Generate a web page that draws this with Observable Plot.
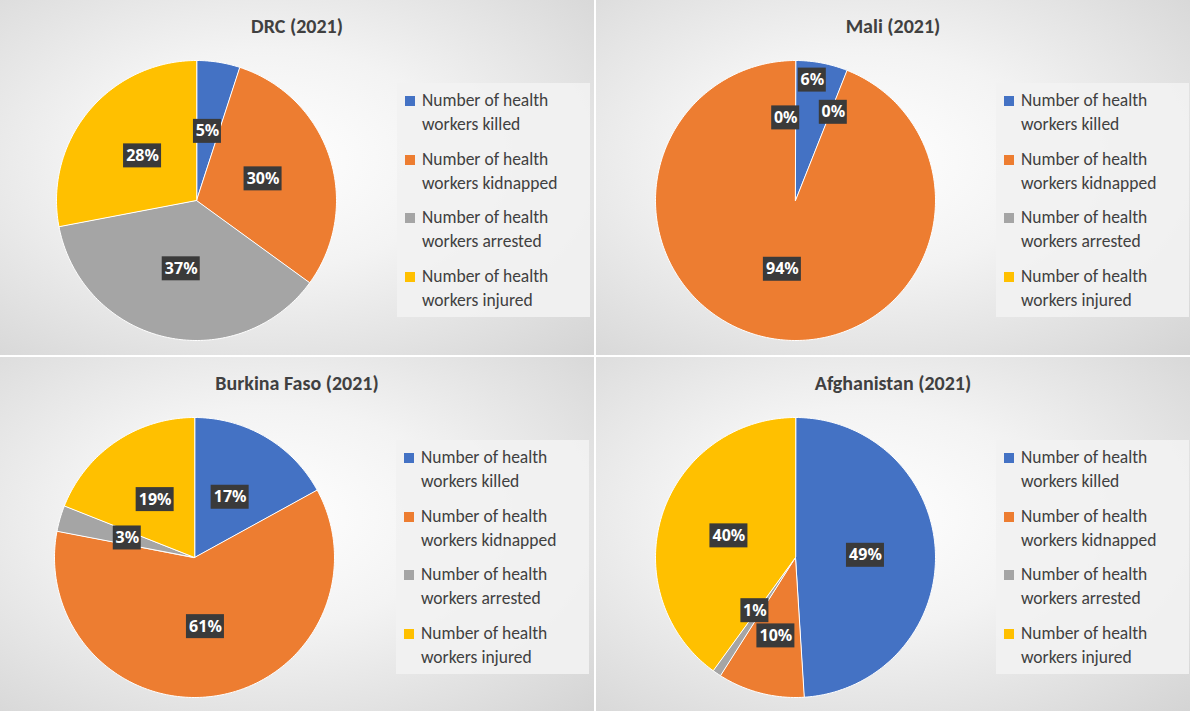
<!DOCTYPE html>
<html><head><meta charset="utf-8">
<script src="https://cdn.jsdelivr.net/npm/d3@7"></script>
<script src="https://cdn.jsdelivr.net/npm/@observablehq/plot@0.6"></script>
<style>
body{margin:0;width:1190px;height:711px;overflow:hidden;font-family:Calibri,Carlito,"Liberation Sans",Arial,sans-serif;background:#fff}
.panel{position:absolute;width:594px;height:355px;background:radial-gradient(ellipse at 45% 45%,#ffffff 0%,#f3f3f3 40%,#d4d4d4 100%);overflow:hidden}
.title{position:absolute;top:14px;left:0;width:594px;text-align:center;font-weight:bold;font-size:20px;color:#404040}
.plot{position:absolute;top:50px}
.legend{position:absolute;top:83px;width:193px;height:234px;background:rgba(242,242,242,0.9)}
.item{position:absolute;left:8px;font-size:17.5px;line-height:24px;color:#404040}
.sw{position:absolute;left:0;top:8px;width:10px;height:10px}
.item span{position:absolute;left:17px;white-space:nowrap}
</style></head><body>
<script>
const categories = ["Number of health workers killed","Number of health workers kidnapped","Number of health workers arrested","Number of health workers injured"];
const legendLines = [["Number of health","workers killed"],["Number of health","workers kidnapped"],["Number of health","workers arrested"],["Number of health","workers injured"]];
const colors = ["#4472C4","#ED7D31","#A5A5A5","#FFC000"];
const titles = ["DRC (2021)","Mali (2021)","Burkina Faso (2021)","Afghanistan (2021)"];
const drc = [5,30,37,28];
const mali = [6,94,0,0];
const burkina = [17,61,3,19];
const afghanistan = [49,10,1,40];
// label placement overrides (radius units) where Excel moved crowded labels
const labelOverrides = [{}, {0:[0.12,0.86],2:[-0.07,0.59],3:[0.27,0.63]}, {}, {2:[-0.29,-0.38],3:null,1:[-0.14,-0.56]}];
const panels = [[0,0,drc,46,397],[596,0,mali,49,400],[0,357,burkina,44,396],[596,357,afghanistan,49,400]];

panels.forEach(([left, top, vals, plotLeft, legLeft], pi) => {
  const div = document.createElement("div");
  div.className = "panel"; div.style.left = left+"px"; div.style.top = top+"px";
  document.body.appendChild(div);
  const t = document.createElement("div"); t.className="title"; t.textContent = titles[pi]; div.appendChild(t);
  const total = d3.sum(vals);
  let acc = 0;
  const poly = [], labels = [];
  vals.forEach((v,i) => {
    const a0 = acc/total*2*Math.PI; acc += v; const a1 = acc/total*2*Math.PI;
    if (v > 0) {
      poly.push({cat:categories[i], x:0, y:0});
      const n = Math.max(2, Math.ceil((a1-a0)/0.02));
      for (let k=0;k<=n;k++){const a=a0+(a1-a0)*k/n; poly.push({cat:categories[i], x:Math.sin(a), y:Math.cos(a)});}
    }
    const am = (a0+a1)/2;
    let lx = 0.5*Math.sin(am), ly = 0.5*Math.cos(am);
    const o = labelOverrides[pi][i];
    if (o) { lx = o[0]; ly = o[1]; }
    labels.push({x:lx, y:ly, text: Math.round(v/total*100)+"%"});
  });
  const R = 150/140;
  const plot = Plot.plot({
    width:300, height:300, margin:0,
    x:{domain:[-R,R], axis:null}, y:{domain:[-R,R], axis:null},
    color:{domain:categories, range:colors},
    marks:[
      Plot.line(poly, {x:"x", y:"y", z:"cat", fill:"cat", stroke:"white", strokeWidth:1, curve:"linear-closed"}),
      Plot.rect(labels, {x1:d=>d.x-(d.text.length*5+4)/140, x2:d=>d.x+(d.text.length*5+4)/140, y1:d=>d.y-12/140, y2:d=>d.y+12/140, fill:"#3a3a3a"}),
      Plot.text(labels, {x:"x", y:"y", text:"text", fill:"white", fontWeight:"bold", fontSize:16})
    ]
  });
  const pd = document.createElement("div"); pd.className="plot"; pd.style.left = plotLeft+"px"; pd.appendChild(plot); div.appendChild(pd);
  const lg = document.createElement("div"); lg.className="legend"; lg.style.left = legLeft+"px"; div.appendChild(lg);
  legendLines.forEach((ls,i)=>{
    const it = document.createElement("div"); it.className="item"; it.style.top=(5+i*58.5)+"px";
    it.innerHTML = `<div class="sw" style="background:${colors[i]}"></div><span style="top:0">${ls[0]}</span><span style="top:24px">${ls[1]}</span>`;
    lg.appendChild(it);
  });
});
</script>
</body></html>
